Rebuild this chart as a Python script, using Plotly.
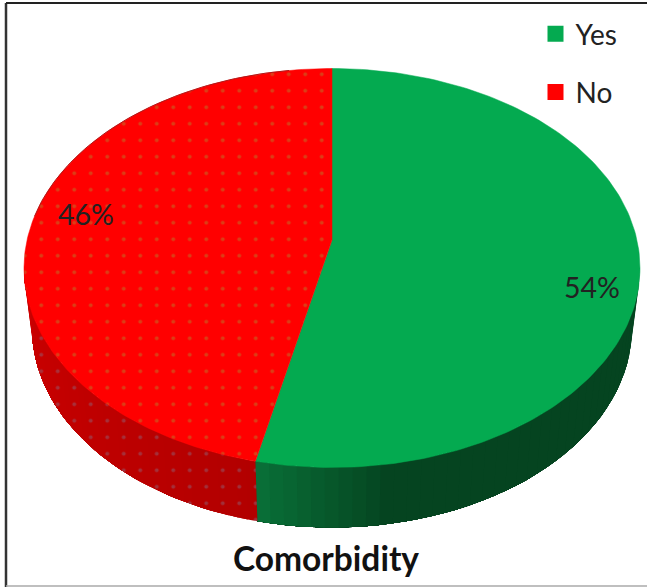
import numpy as np
import plotly.graph_objects as go

# Comorbidity shares, clockwise from twelve o'clock
labels = ["Yes", "No"]
values = [54, 46]
face_colors = ["#04aa50", "#ff0000"]
title_text = "Comorbidity"

# Disc geometry, in the pixel-sized units of the axes
CX, CY, RX, RY = 332, 268, 308, 199.5
BOTTOM_CY, BOTTOM_RX = 328, 300
APEX_Y = 240


def rim(theta, cy=CY, rx=RX, ry=RY):
    return CX + rx * np.sin(theta), cy - ry * np.cos(theta)


def mix(c0, c1, t):
    return "rgb({},{},{})".format(*[round(a + (b - a) * t) for a, b in zip(c0, c1)])


fractions = np.array(values, dtype=float) / sum(values)
edges = np.concatenate([[0], np.cumsum(fractions)]) * 2 * np.pi
DOTS = dict(shape=".", size=16.5, solidity=0.045, fgopacity=0.45)

fig = go.Figure()

# Side wall: each band runs to the end of its slice and the next one paints over
# it, which shades the rim gradually and leaves no seams between bands
wall_start, wall_end = np.pi / 2, 3 * np.pi / 2
wall_ramps = [((5, 68, 32), (9, 112, 56)), ((178, 0, 0), (204, 0, 0))]
for i in range(2):
    lo, hi = max(edges[i], wall_start), min(edges[i + 1], wall_end)
    n = 40
    steps = np.linspace(lo, hi, n + 1)
    for k in range(n):
        pos = (k + 0.5) / n
        # the green wall stays dark and lightens only near the slice boundary
        shade = np.clip((pos - 0.76) / 0.24, 0, 1) if i == 0 else pos
        color = mix(*wall_ramps[i], shade)
        theta = np.linspace(steps[k], hi, n - k + 1)
        xt, yt = rim(theta)
        xb, yb = rim(theta[::-1], BOTTOM_CY, BOTTOM_RX)
        band = dict(
            x=np.r_[xt, xb, xt[0]], y=np.r_[yt, yb, yt[0]],
            mode="lines", fill="toself", fillcolor=color,
            line=dict(width=0),
            hoverinfo="skip", showlegend=False,
        )
        if i == 1:
            band["fillpattern"] = dict(DOTS, bgcolor=color, fgcolor="#8a6a80")
        fig.add_trace(go.Scatter(**band))

# Top faces
for i, label in enumerate(labels):
    theta = np.linspace(edges[i], edges[i + 1], 180)
    ax, ay = rim(theta)
    face = dict(
        x=np.r_[CX, ax, CX], y=np.r_[APEX_Y, ay, APEX_Y],
        mode="lines", fill="toself", fillcolor=face_colors[i],
        line=dict(color=face_colors[i], width=0.5),
        hoverinfo="skip", showlegend=False,
    )
    if label == "No":
        face["fillpattern"] = dict(DOTS, bgcolor=face_colors[i], fgcolor="#b08a30")
    fig.add_trace(go.Scatter(**face))

# Thin shaded edge along the far rim of the red face
far_x, far_y = rim(np.radians(np.linspace(285, 352, 60)))
fig.add_trace(go.Scatter(
    x=far_x, y=far_y, mode="lines", line=dict(color="#b01818", width=1),
    hoverinfo="skip", showlegend=False,
))

# Legend keys
for i, label in enumerate(labels):
    fig.add_trace(go.Scatter(
        x=[None], y=[None], mode="markers", name=label, legendgroup=label,
        marker=dict(symbol="square", size=16, color=face_colors[i]),
    ))

percent_positions = {"Yes": (592, 287), "No": (86, 214)}
annotations = [
    dict(x=percent_positions[l][0], y=percent_positions[l][1], text=f"{v}%",
         showarrow=False, font=dict(size=28.5, color="#222222", family="Lato"))
    for l, v in zip(labels, values)
]
annotations.append(dict(
    x=326, y=558, text=f"<b>{title_text}</b>", showarrow=False,
    font=dict(size=33.5, color="#111111", family="Lato"),
))

frame = [
    dict(type="line", x0=6, x1=6, y0=3, y1=587, line=dict(color="#333333", width=2.5)),
    dict(type="line", x0=6, x1=647, y0=3, y1=3, line=dict(color="#222222", width=2)),
    dict(type="line", x0=6, x1=647, y0=586, y1=586, line=dict(color="#aaaaaa", width=1.5)),
]

fig.update_layout(
    width=647, height=587,
    margin=dict(l=0, r=0, t=0, b=0),
    paper_bgcolor="white", plot_bgcolor="white",
    xaxis=dict(range=[0, 647], visible=False, fixedrange=True),
    yaxis=dict(range=[587, 0], visible=False, fixedrange=True),
    shapes=frame, annotations=annotations,
    legend=dict(
        x=535.5 / 647, y=1 - 9 / 587, xanchor="left", yanchor="top",
        font=dict(size=28, color="#222222", family="Lato"),
        tracegroupgap=19, bgcolor="rgba(0,0,0,0)",
    ),
)

fig.write_html("out.html")
